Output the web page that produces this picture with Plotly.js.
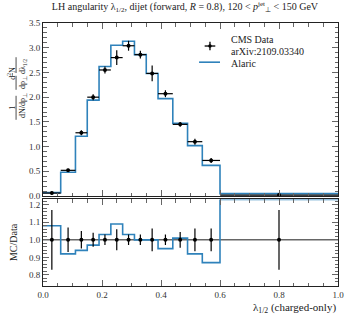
<!DOCTYPE html>
<html>
<head>
<meta charset="utf-8">
<script src="https://cdn.plot.ly/plotly-3.0.1.min.js"></script>
<style>html,body{margin:0;padding:0;background:#fff;}#chart{width:349px;height:315px;}</style>
</head>
<body>
<div id="chart"></div>
<script>
// Bin edges of lambda_{1/2}
const binEdges = [0, 0.06, 0.11, 0.15, 0.19, 0.23, 0.27, 0.31, 0.35, 0.39, 0.44, 0.49, 0.54, 0.60, 1.00];
// CMS data (normalised distribution) and its uncertainties
const dataValues = [0.06, 0.52, 1.28, 2.00, 2.55, 2.80, 3.04, 2.86, 2.48, 2.07, 1.45, 1.10, 0.72, 0.02];
const dataErrors = [0.03, 0.03, 0.05, 0.06, 0.07, 0.15, 0.10, 0.08, 0.16, 0.07, 0.05, 0.06, 0.05, 0.03];
// Alaric prediction
const mcValues = [0.07, 0.48, 1.21, 1.94, 2.62, 3.05, 3.13, 2.86, 2.48, 1.97, 1.47, 1.02, 0.62, 0.05];
// Ratio panel: MC/Data (last bin clipped at the panel top) and relative data uncertainty
const ratioValues = [1.08, 0.92, 0.94, 0.97, 1.03, 1.09, 1.03, 1.00, 1.00, 0.95, 1.01, 0.92, 0.87, 1.23];
const ratioErrors = [0.17, 0.07, 0.05, 0.04, 0.03, 0.06, 0.03, 0.03, 0.065, 0.03, 0.045, 0.065, 0.065, 0.17];
const xTickVals = [0, 0.2, 0.4, 0.6, 0.8, 1.0];
const xTickText = ["0.0", "0.2", "0.4", "0.6", "0.8", "1.0"];
const legendLabels = ["CMS Data", "arXiv:2109.03340", "Alaric"];

const centers = binEdges.slice(0, -1).map((e, i) => (e + binEdges[i + 1]) / 2);
const halfW = binEdges.slice(0, -1).map((e, i) => (binEdges[i + 1] - e) / 2);
const stepY = arr => arr.concat([arr[arr.length - 1]]);

const FONT = "Liberation Serif, Times New Roman, serif";
const BLUE = "#2f82bb";
const NB = n => "\u00A0".repeat(n);

const traces = [
  {x: binEdges, y: stepY(mcValues), xaxis: "x", yaxis: "y", mode: "lines",
   line: {shape: "hv", color: BLUE, width: 1.6}, name: "Alaric"},
  {x: centers, y: dataValues, xaxis: "x", yaxis: "y", mode: "markers",
   marker: {color: "black", size: 4},
   error_y: {type: "data", array: dataErrors, color: "black", thickness: 1.2, width: 0},
   error_x: {type: "data", array: halfW, color: "black", thickness: 1.2, width: 0},
   name: "CMS Data"},
  {x: binEdges, y: stepY(ratioValues), xaxis: "x2", yaxis: "y2", mode: "lines",
   line: {shape: "hv", color: BLUE, width: 1.6}, name: "MC/Data"},
  {x: centers, y: centers.map(() => 1), xaxis: "x2", yaxis: "y2", mode: "markers",
   marker: {color: "black", size: 4},
   error_y: {type: "data", array: ratioErrors, color: "black", thickness: 1.2, width: 0},
   name: "Data unc."}
];

const axCommon = {
  showline: true, linecolor: "#222", linewidth: 1, mirror: "allticks",
  ticks: "inside", tickcolor: "#666", ticklen: 6, tickwidth: 1,
  showgrid: false, zeroline: false,
  tickfont: {family: FONT, size: 9, color: "#333"}
};
const minorX = {dtick: 0.05, ticklen: 3.5, tickcolor: "#666", ticks: "inside"};

// legend geometry (paper coords)
const lgSymX = 0.566, lgTextX = 0.631;
const lgY = [0.938, 0.891, 0.847];

const layout = {
  width: 349, height: 315,
  margin: {l: 43, r: 11, t: 23, b: 29},
  paper_bgcolor: "#fff", plot_bgcolor: "#fff",
  font: {family: FONT, size: 10, color: "#222"},
  title: {text: "LH angularity λ<sub>1/2</sub>, dijet (forward, <i>R</i> = 0.8), 120 < <i>p</i><sup>jet</sup><sub>⊥</sub> < 150 GeV",
          font: {family: FONT, size: 10, color: "#222"}, x: 0.53, xanchor: "center", y: 0.99, yanchor: "top"},
  showlegend: false,
  xaxis: Object.assign({}, axCommon, {domain: [0, 1], range: [0, 1], anchor: "y", showticklabels: false,
    tickvals: xTickVals, minor: minorX}),
  yaxis: Object.assign({}, axCommon, {domain: [0.342, 1], range: [0, 3.5], anchor: "x", dtick: 0.5,
    tickformat: ".1f", minor: {dtick: 0.1, ticklen: 3.5, tickcolor: "#666", ticks: "inside"}}),
  xaxis2: Object.assign({}, axCommon, {domain: [0, 1], range: [0, 1], anchor: "y2",
    tickvals: xTickVals, ticktext: xTickText, minor: minorX}),
  yaxis2: Object.assign({}, axCommon, {domain: [0, 0.329], range: [0.737, 1.23], anchor: "x2", dtick: 0.1,
    tickformat: ".1f", minor: {dtick: 0.02, ticklen: 3.5, tickcolor: "#666", ticks: "inside"}}),
  shapes: [
    {type: "line", xref: "x2 domain", yref: "y2", x0: 0, x1: 1, y0: 1, y1: 1,
     line: {color: "#666", width: 1.5}, layer: "below"},
    // legend symbols
    {type: "line", xref: "paper", yref: "paper", x0: lgSymX - 0.018, x1: lgSymX + 0.018, y0: 0.9125, y1: 0.9125,
     line: {color: "black", width: 1.3}},
    {type: "line", xref: "paper", yref: "paper", x0: lgSymX, x1: lgSymX, y0: 0.896, y1: 0.929,
     line: {color: "black", width: 1.3}},
    {type: "circle", xref: "paper", yref: "paper", x0: lgSymX - 0.006, x1: lgSymX + 0.006, y0: 0.906, y1: 0.919,
     fillcolor: "black", line: {color: "black", width: 0}},
    {type: "line", xref: "paper", yref: "paper", x0: 0.529, x1: 0.600, y0: 0.851, y1: 0.851,
     line: {color: BLUE, width: 1.6}}
  ],
  annotations: [
    {text: "<span style='text-decoration:underline'>" + NB(5) + "1" + NB(5) + "</span>" + NB(3) +
           "<span style='text-decoration:underline'>" + NB(5) + "d<sup>2</sup>N" + NB(5) + "</span>" +
           "<br>dN/dp<sub>⊥</sub>" + NB(2) + "dp<sub>⊥</sub> dλ<sub>1/2</sub>",
     xref: "paper", yref: "paper", x: -0.088, y: 0.75, xanchor: "center", yanchor: "middle",
     textangle: -90, showarrow: false, font: {family: FONT, size: 8, color: "#222"}},
    {text: "MC/Data", xref: "paper", yref: "paper", x: -0.1, y: 0.165, xanchor: "center", yanchor: "middle",
     textangle: -90, showarrow: false, font: {family: FONT, size: 10, color: "#222"}},
    {text: "λ<sub>1/2</sub> (charged-only)", xref: "paper", yref: "paper", x: 1, y: -0.082,
     xanchor: "right", yanchor: "middle", showarrow: false, font: {family: FONT, size: 11, color: "#222"}}
  ].concat(legendLabels.map((t, i) => ({
     text: t, xref: "paper", yref: "paper", x: lgTextX, y: lgY[i], xanchor: "left", yanchor: "middle",
     showarrow: false, font: {family: FONT, size: 10, color: "#222"}})))
};

Plotly.newPlot("chart", traces, layout, {displayModeBar: false, staticPlot: true});
</script>
</body>
</html>
